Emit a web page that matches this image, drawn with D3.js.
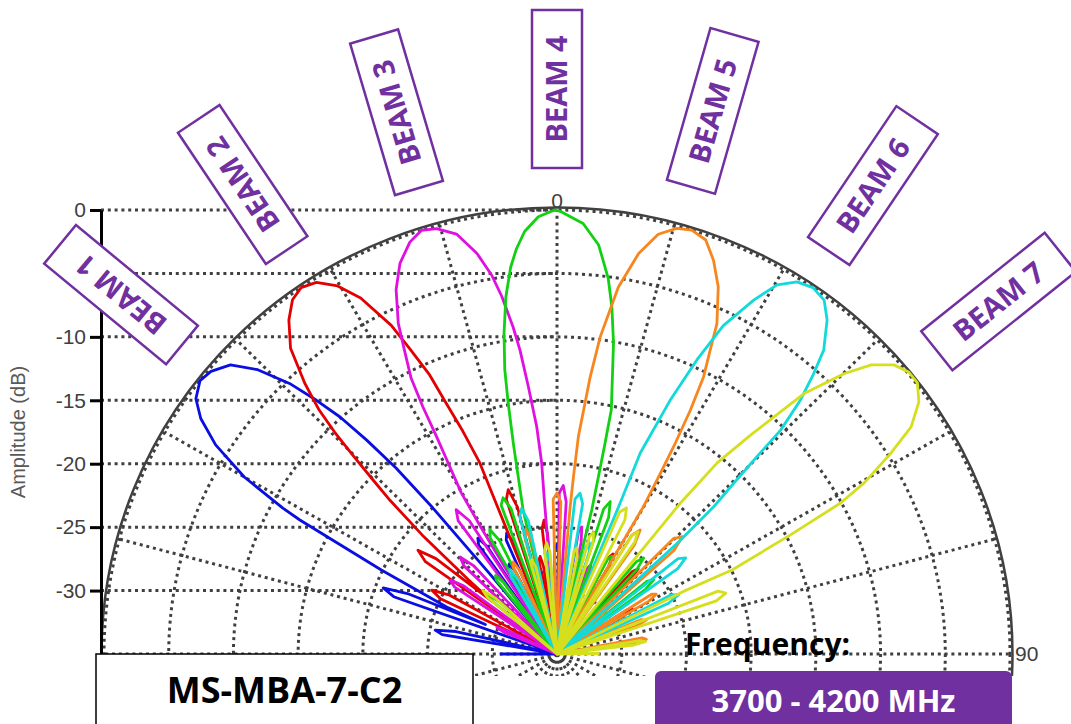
<!DOCTYPE html>
<html>
<head>
<meta charset="utf-8">
<script src="https://cdn.jsdelivr.net/npm/d3@7"></script>
<style>
  body { margin: 0; background: #fff; }
  svg { display: block; }
</style>
</head>
<body>
<svg></svg>
<script>
const width = 1071;
const height = 724;

const CX = 557;      // pattern centre
const CY = 654;
const RX = 453;      // 0 dB radius, horizontal
const RY = 444;      // 0 dB radius, vertical
const AXIS_X = 101;
const LABEL_R = 565;
const PURPLE = "#7030A0";
const GRID = "#404040";

/* -------------------------
   DATA
--------------------------*/
const dbTicks = [0, -5, -10, -15, -20, -25, -30];
const dbRings = [-30, -25, -20, -15, -10, -5, 0];
const spokeAngles = [0, 15, 30, 45, 60, 75, 90, 105, 120, 135, 150, 165,
                     180, 195, 210, 225, 240, 255, 270, 285, 300, 315, 330, 345];
const angleLabels = [0, 90];

const beamNames = ["BEAM 1", "BEAM 2", "BEAM 3", "BEAM 4", "BEAM 5", "BEAM 6", "BEAM 7"];
const beamAngles = [-50.5, -33.8, -16.5, 0, 16, 34, 51.4];
const beamColors = ["#0a0ee0", "#e30000", "#e010e0", "#12d012", "#f7861f", "#12dada", "#d5df1e"];

// [angle (deg), amplitude (dB)]
const beam1 = [[-90,-30.6],[-88.5,-35],[-81.5,-35],[-80.2,-26],[-78.7,-25.4],[-77.2,-27],[-75.5,-35],
  [-71.5,-35],[-70.3,-21.6],[-68.8,-20.6],[-67.6,-22.5],[-67.2,-29],[-66.5,-25.7],[-64,-19.9],
  [-62,-12.5],[-61.5,-10.9],[-60,-7.1],[-58,-3.9],[-56,-1.8],[-54.2,-0.6],[-52,0],[-50.2,-0.2],
  [-47.9,-1],[-45.9,-2.8],[-44.1,-5.3],[-42.9,-7.7],[-41.9,-9.9],[-41.1,-12.6],[-40.3,-15.8],
  [-39.8,-20],[-39.4,-27],[-39,-35],[-36.5,-35],[-35.2,-24.5],[-33.8,-24],[-32.4,-25],[-31.2,-35],
  [-30,-35],[-28.8,-27.2],[-27.5,-27],[-26.2,-27.8],[-25,-35],[-24.5,-35],[-23.6,-25.2],
  [-22.2,-24.7],[-20.8,-25.6],[-19.6,-35],[-14,-35],[-12.8,-28],[-11.6,-27.8],[-10.4,-28.5],
  [-9.2,-35],[-3,-35],[-1.4,-26.8],[0,-26.4],[1.4,-27],[3,-35],[90,-35]];

const beam2 = [[-90,-35],[-66,-35],[-64.2,-25],[-62.5,-24.1],[-60.8,-25.5],[-59.3,-35],[-56,-35],
  [-54.4,-22.5],[-52.7,-21.5],[-51.2,-23],[-50.4,-28.5],[-49.5,-26],[-48,-21],[-46.8,-17.3],
  [-46,-15.2],[-45.2,-12.8],[-44.5,-10.5],[-43.7,-8.4],[-42.4,-6.1],[-40.5,-3.3],[-38.2,-1.5],
  [-36.2,-0.4],[-34.4,0],[-32.4,-0.3],[-30.3,-1.4],[-28.4,-3.1],[-26.3,-6.1],[-25.3,-8.4],
  [-24.1,-10.9],[-23.4,-13.5],[-22.5,-16],[-21.6,-18.8],[-21.6,-22],[-21.2,-35],[-19,-35],
  [-17.8,-22.2],[-16.2,-21.5],[-14.8,-23],[-13.6,-35],[-12,-35],[-10.8,-27.5],[-9.6,-27.2],
  [-8.6,-28],[-7.8,-35],[-7.4,-35],[-6.6,-25],[-5.4,-24.4],[-4.4,-25.5],[-3.4,-35],[12,-35],
  [13.2,-28],[14.4,-27.6],[15.6,-28.4],[16.8,-35],[26.2,-35],[27.5,-26.5],[28.8,-26],[30.1,-27],
  [31.3,-35],[40.8,-35],[41.8,-26.3],[43,-25.8],[44.2,-27],[45.4,-35],[56,-35],[57.3,-28.5],
  [58.6,-28.2],[59.8,-29],[61,-35],[90,-35]];

const beam3 = [[-90,-35],[-68.5,-35],[-67.2,-30.5],[-65.6,-29.9],[-64,-31],[-62.6,-35],[-57.5,-35],
  [-56.3,-25.5],[-54.8,-24.9],[-53.3,-26],[-52,-35],[-47.5,-35],[-46,-25],[-44.4,-24.3],
  [-42.8,-25.5],[-41.5,-35],[-37.5,-35],[-36,-22],[-34.4,-21.2],[-32.8,-22.5],[-31.5,-35],[-31,-35],
  [-30.5,-23.5],[-30.2,-20.3],[-29.3,-18.1],[-28.5,-15.5],[-28,-12.9],[-27.4,-10.5],[-26.2,-8.3],
  [-25.2,-6.2],[-23.4,-3.7],[-21.5,-1.9],[-19.3,-0.6],[-17.4,0],[-15.5,-0.2],[-13.2,-1],
  [-11.1,-2.8],[-9.6,-4.7],[-8.6,-6.5],[-7.5,-9],[-6.8,-10.9],[-6,-13.8],[-5,-17],[-4.5,-19.9],
  [-4.6,-22.6],[-4.2,-35],[0,-35],[0.8,-22.3],[2.1,-21.7],[3.4,-23],[4.4,-35],[9,-35],
  [9.8,-25.2],[10.8,-24.8],[12,-26],[13.2,-35],[18,-35],[19.2,-27.8],[20.4,-27.5],[21.6,-28.2],
  [22.8,-35],[90,-35]];

const beam4 = [[-90,-35],[-51.5,-35],[-50.2,-28.3],[-48.7,-27.8],[-47.2,-29],[-46,-35],[-40,-35],
  [-38.8,-27.5],[-37.5,-27.2],[-36.2,-28],[-35,-35],[-30.5,-35],[-29.4,-24.5],[-27.9,-23.9],
  [-26.4,-25],[-25.3,-35],[-21,-35],[-20.2,-22.5],[-18.7,-22],[-17.2,-23],[-16.2,-35],[-13.6,-35],
  [-13,-23.4],[-12.1,-20.7],[-11.5,-18.1],[-10.8,-14.9],[-10.2,-12.2],[-9.2,-9.4],[-8,-6.6],
  [-6.7,-4.3],[-5.6,-2.9],[-4.3,-1.6],[-2.4,-0.5],[-0.3,0],[0.4,-0.1],[3.4,-1],[5.7,-2.6],
  [7.6,-5.1],[8.8,-7.3],[10.1,-10.1],[12.3,-15.3],[12.6,-18],[12.9,-20.7],[13.3,-23.3],[13.8,-35],
  [16.2,-35],[17.5,-23],[18.9,-22.3],[20.3,-23.5],[21.5,-35],[26.5,-35],[27.6,-26.5],[28.8,-26.2],
  [30,-27],[31,-35],[39,-35],[40.1,-25.5],[41.5,-24.9],[42.9,-26],[44,-35],[49.5,-35],[50.5,-26],
  [51.9,-25.5],[53.3,-26.5],[54.5,-35],[90,-35]];

const beam5 = [[-90,-35],[-27.5,-35],[-26.3,-27.4],[-25,-27],[-23.7,-27.8],[-22.5,-35],[-16.5,-35],
  [-15.2,-25.5],[-13.7,-24.9],[-12.2,-26],[-11,-35],[-2.5,-35],[-1.4,-22.8],[0,-22.3],[1.4,-23],
  [2.5,-35],[4.7,-35],[5,-23.4],[5.2,-21],[5.5,-17.8],[6.7,-13],[7.6,-9.8],[9.3,-5.7],[11.3,-2.8],
  [13.3,-1],[15.4,-0.2],[17.3,0],[19.4,-0.4],[21.3,-1.7],[23.3,-3.5],[25.4,-6.2],[26.3,-8.3],
  [27.4,-10.4],[28.2,-13.2],[28.8,-16],[29.3,-18.7],[29.9,-21.6],[30.3,-35],[31.7,-24],
  [33.3,-23.3],[34.8,-24.5],[36,-35],[43.5,-35],[44.7,-22.2],[46.3,-21.6],[47.9,-22.8],[49,-35],
  [56,-35],[57.2,-26.3],[58.4,-26],[59.6,-26.8],[60.8,-35],[66,-35],[67.3,-28],[68.8,-27.6],
  [70.2,-28.5],[71.5,-35],[77.5,-35],[79,-28.3],[80.5,-28],[82,-29],[83.5,-35],[90,-35]];

const beam6 = [[-90,-35],[-31.5,-35],[-30.3,-28],[-28.8,-27.4],[-27.3,-28.5],[-26,-35],[-16.5,-35],
  [-14.9,-23.8],[-13.4,-23.2],[-11.9,-24.3],[-10.5,-35],[-7.5,-35],[-6.4,-27.3],[-5.2,-27],
  [-4,-27.8],[-2.8,-35],[5,-35],[6.5,-22.7],[8,-22.2],[9.5,-23],[10.8,-35],[13.5,-35],
  [14.8,-26.2],[16,-25.9],[17.2,-26.6],[18.4,-35],[21.8,-35],[22.3,-22.2],[22.1,-17.9],
  [23.6,-13.2],[25,-9.4],[26.4,-6.1],[28.6,-3.2],[30.3,-1.3],[32.3,-0.3],[34.4,0],[36.5,-0.3],
  [38.4,-1.4],[40.7,-3.4],[41.9,-5.3],[43.2,-7.5],[44.4,-10.3],[44.8,-13.1],[45.4,-15.8],
  [46.2,-18.2],[46.8,-22],[47.3,-35],[50,-35],[51.2,-23],[52.7,-22.5],[54.2,-23.5],[55.5,-35],
  [61,-35],[62.1,-25],[63.6,-24.5],[65.1,-25.5],[66.3,-35],[90,-35]];

const beam7 = [[-90,-35],[-51.5,-35],[-50.3,-28],[-48.8,-27.4],[-47.3,-28.5],[-46,-35],[-17,-35],
  [-15.8,-27.6],[-14.6,-27.3],[-13.4,-28],[-12.2,-35],[-8.5,-35],[-6.8,-26.8],[-5.3,-26.2],
  [-3.8,-27],[-2.5,-35],[8,-35],[9.2,-26.8],[10.4,-26.5],[11.6,-27.2],[12.8,-35],[14,-35],
  [15.2,-25.4],[16.4,-25],[17.6,-25.8],[18.8,-35],[21.8,-35],[23.4,-22.8],[25,-22.3],[26.4,-23.2],
  [27.6,-35],[30.6,-35],[31.8,-24],[33,-23.5],[34.2,-24.3],[35.5,-35],[38.3,-35],[38.7,-19.8],
  [39.4,-15.5],[40.9,-12.2],[42.9,-7],[45.1,-3.7],[46.8,-1.7],[48.8,-0.4],[50.7,0.1],[52.5,0.1],
  [54.6,-0.7],[56.8,-2.3],[58.5,-4.8],[60.4,-7.7],[61.5,-10.1],[62.5,-14.7],[63.9,-19.9],
  [63.2,-24.1],[64,-35],[67,-35],[68.3,-21.6],[69.8,-21.1],[71.2,-22],[72.5,-35],[79.5,-35],
  [80.6,-28.5],[81.9,-28.1],[83.2,-29],[84.5,-35],[88.5,-35],[89.3,-31.9],[90,-31.7]];

const beams = [beam1, beam2, beam3, beam4, beam5, beam6, beam7];

/* -------------------------
   SCALES
--------------------------*/
const r = d3.scaleLinear().domain([-35, 0]).range([0, 1]);
const rad = d3.scaleLinear().domain([0, 180]).range([0, Math.PI]);
const yAxisScale = d3.scaleLinear().domain([-35, 0]).range([CY, CY - RY]);

const px = (a, db) => CX + r(Math.max(db, -35)) * RX * Math.sin(rad(a));
const py = (a, db) => CY - r(Math.max(db, -35)) * RY * Math.cos(rad(a));

/* -------------------------
   SVG
--------------------------*/
const svg = d3.select("svg")
  .attr("width", width)
  .attr("height", height)
  .style("font-family", "'Liberation Sans', Arial, sans-serif");

svg.append("rect").attr("width", width).attr("height", height).attr("fill", "#fff");

svg.append("defs").append("clipPath").attr("id", "clip")
  .append("rect").attr("width", width).attr("height", 676);

/* -------------------------
   GRID
--------------------------*/
const grid = svg.append("g")
  .attr("clip-path", "url(#clip)")
  .attr("fill", "none")
  .attr("stroke", GRID)
  .attr("stroke-width", 3)
  .attr("stroke-dasharray", "3,3.8");

grid.selectAll("ellipse")
  .data(dbRings)
  .join("ellipse")
  .attr("cx", CX)
  .attr("cy", CY)
  .attr("rx", d => r(d) * RX)
  .attr("ry", d => r(d) * RY);

grid.selectAll("line.spoke")
  .data(spokeAngles)
  .join("line")
  .attr("class", "spoke")
  .attr("x1", CX)
  .attr("y1", CY)
  .attr("x2", d => px(d, 0))
  .attr("y2", d => py(d, 0));

// horizontal guides from the amplitude axis to the 0 deg spoke
grid.selectAll("line.hline")
  .data(dbTicks)
  .join("line")
  .attr("class", "hline")
  .attr("x1", AXIS_X)
  .attr("x2", CX)
  .attr("y1", d => yAxisScale(d))
  .attr("y2", d => yAxisScale(d));

svg.append("ellipse")
  .attr("clip-path", "url(#clip)")
  .attr("cx", CX)
  .attr("cy", CY)
  .attr("rx", RX + 2.5)
  .attr("ry", RY + 2.5)
  .attr("fill", "none")
  .attr("stroke", GRID)
  .attr("stroke-width", 2.5);

/* -------------------------
   AMPLITUDE AXIS
--------------------------*/
const axis = svg.append("g")
  .attr("transform", `translate(${AXIS_X},0)`)
  .call(d3.axisLeft(yAxisScale)
    .tickValues(dbTicks)
    .tickSize(11)
    .tickSizeOuter(0)
    .tickPadding(4)
    .tickFormat(d => String(d)));

axis.select(".domain").attr("stroke", "#000").attr("stroke-width", 3);
axis.selectAll(".tick line").attr("stroke", "#000").attr("stroke-width", 3);
axis.selectAll(".tick text")
  .attr("fill", GRID)
  .style("font-family", "'Liberation Sans', Arial, sans-serif")
  .style("font-size", "21px");

svg.append("text")
  .attr("transform", `translate(25,432) rotate(-90)`)
  .attr("text-anchor", "middle")
  .attr("fill", "#595959")
  .style("font-size", "20px")
  .text("Amplitude (dB)");

/* angle labels */
svg.selectAll("text.ang")
  .data(angleLabels)
  .join("text")
  .attr("class", "ang")
  .attr("x", d => d === 0 ? px(d, 0) : px(d, 0) + 5)
  .attr("y", d => d === 0 ? py(d, 0) - 2 : CY + 7)
  .attr("text-anchor", d => d === 0 ? "middle" : "start")
  .attr("fill", GRID)
  .style("font-size", "21px")
  .text(d => d);

/* -------------------------
   BEAMS
--------------------------*/
const line = d3.line()
  .x(d => px(d[0], d[1]))
  .y(d => py(d[0], d[1]));

svg.append("g")
  .selectAll("path")
  .data(beams)
  .join("path")
  .attr("d", line)
  .attr("fill", "none")
  .attr("stroke", (d, i) => beamColors[i])
  .attr("stroke-width", 2.8)
  .attr("stroke-linejoin", "round");

/* -------------------------
   BEAM LABELS
--------------------------*/
const lab = svg.append("g")
  .selectAll("g")
  .data(beamNames)
  .join("g")
  .attr("transform", (d, i) => {
    const a = beamAngles[i];
    const x = CX + LABEL_R * Math.sin(rad(a));
    const y = CY - LABEL_R * Math.cos(rad(a));
    return `translate(${x},${y}) rotate(${a - 90})`;
  });

lab.append("rect")
  .attr("x", -79)
  .attr("y", -25)
  .attr("width", 158)
  .attr("height", 50)
  .attr("fill", "#fff")
  .attr("stroke", PURPLE)
  .attr("stroke-width", 2.5);

lab.append("text")
  .attr("text-anchor", "middle")
  .attr("dy", "0.36em")
  .attr("fill", PURPLE)
  .style("font-family", "'Open Sans', sans-serif")
  .style("font-weight", "bold")
  .style("font-size", "29px")
  .text(d => d);

/* -------------------------
   MODEL / FREQUENCY BOXES
--------------------------*/
svg.append("rect")
  .attr("x", 96).attr("y", 654)
  .attr("width", 377).attr("height", 90)
  .attr("fill", "#fff")
  .attr("stroke", "#000")
  .attr("stroke-width", 1.5);

svg.append("text")
  .attr("x", 284.5).attr("y", 703)
  .attr("text-anchor", "middle")
  .style("font-family", "'Open Sans', sans-serif")
  .style("font-weight", "bold")
  .style("font-size", "36px")
  .text("MS-MBA-7-C2");

svg.append("text")
  .attr("x", 685).attr("y", 655)
  .style("font-family", "'Open Sans', sans-serif")
  .style("font-weight", "bold")
  .style("font-size", "30px")
  .text("Frequency:");

svg.append("rect")
  .attr("x", 655).attr("y", 671)
  .attr("width", 357).attr("height", 80)
  .attr("rx", 6)
  .attr("fill", PURPLE);

svg.append("text")
  .attr("x", 833.5).attr("y", 712)
  .attr("text-anchor", "middle")
  .attr("fill", "#fff")
  .style("font-family", "'Open Sans', sans-serif")
  .style("font-weight", "bold")
  .style("font-size", "31px")
  .text("3700 - 4200 MHz");
</script>
</body>
</html>
